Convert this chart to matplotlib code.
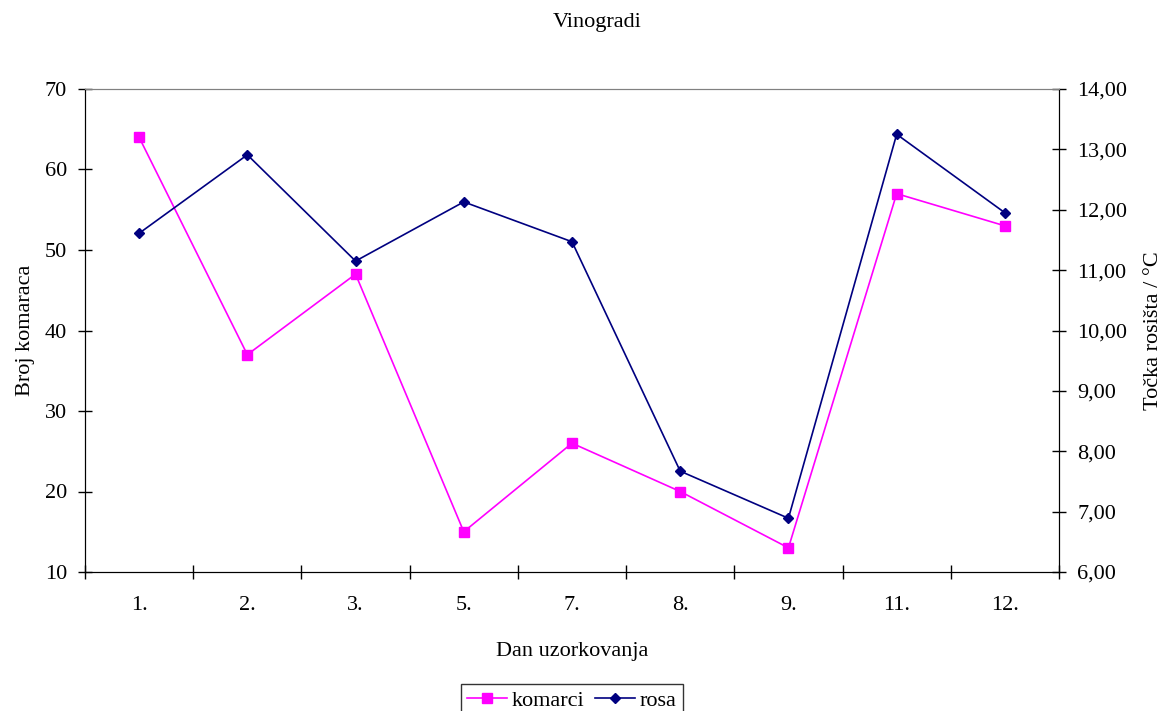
import matplotlib
matplotlib.use("Agg")
import matplotlib.pyplot as plt
from matplotlib.ticker import FixedLocator, FuncFormatter
import numpy as np

categories = ["1.", "2.", "3.", "5.", "7.", "8.", "9.", "11.", "12."]
komarci = [64, 37, 47, 15, 26, 20, 13, 57, 53]
rosa = [11.61, 12.91, 11.15, 12.13, 11.47, 7.67, 6.89, 13.25, 11.95]

plt.rcParams['font.family'] = ['Liberation Serif', 'DejaVu Serif']
FS = 16

fig = plt.figure(figsize=(11.61, 7.11), dpi=100)
ax = fig.add_axes([85/1161, 1 - 572/711, 974/1161, 483/711])
ax2 = ax.twinx()

x = np.arange(len(categories))
l1, = ax.plot(x, komarci, color='#FF00FF', marker='s', markersize=7, lw=1.2, label='komarci')
l2, = ax2.plot(x, rosa, color='#000080', marker='D', markersize=5.5, lw=1.2, label='rosa')

ax.set_xlim(-0.5, len(categories) - 0.5)
ax.set_ylim(10, 70)
ax.set_yticks(np.arange(10, 71, 10))
ax2.set_ylim(6, 14)
ax2.set_yticks(np.arange(6, 14.01, 1))
ax2.yaxis.set_major_formatter(FuncFormatter(lambda v, p: f"{v:.2f}".replace('.', ',')))

ax.set_xticks(x)
ax.set_xticklabels(categories, fontsize=FS)
ax.tick_params(axis='x', length=0, pad=17)
ax.xaxis.set_minor_locator(FixedLocator(np.arange(-0.5, len(categories), 1)))
ax.tick_params(axis='x', which='minor', direction='inout', length=10, width=1)
ax.tick_params(axis='y', direction='inout', length=10, width=1, labelsize=FS, pad=8)
ax2.tick_params(axis='y', direction='inout', length=10, width=1, labelsize=FS, pad=8)

for a in (ax, ax2):
    a.spines['top'].set_color('#808080')
    a.spines['left'].set_color('black')
    a.spines['right'].set_color('black')
    a.spines['bottom'].set_color('black')

ax.set_xlabel("Dan uzorkovanja", fontsize=FS, labelpad=20)
ax.set_ylabel("Broj komaraca", fontsize=FS, labelpad=7)
ax2.set_ylabel("Točka rosišta / °C", fontsize=FS, labelpad=12)
fig.text(0.514, 1 - 23/711, "Vinogradi", ha='center', va='center', fontsize=FS)

leg = fig.legend(handles=[l1, l2], loc='lower center', bbox_to_anchor=(572/1161, -0.025),
                 ncol=2, fontsize=FS, frameon=True, fancybox=False, edgecolor='black',
                 handlelength=1.8, handletextpad=0.2, columnspacing=0.5, borderpad=0.3)
leg.get_frame().set_linewidth(1)

fig.savefig("out.png", dpi=100)
